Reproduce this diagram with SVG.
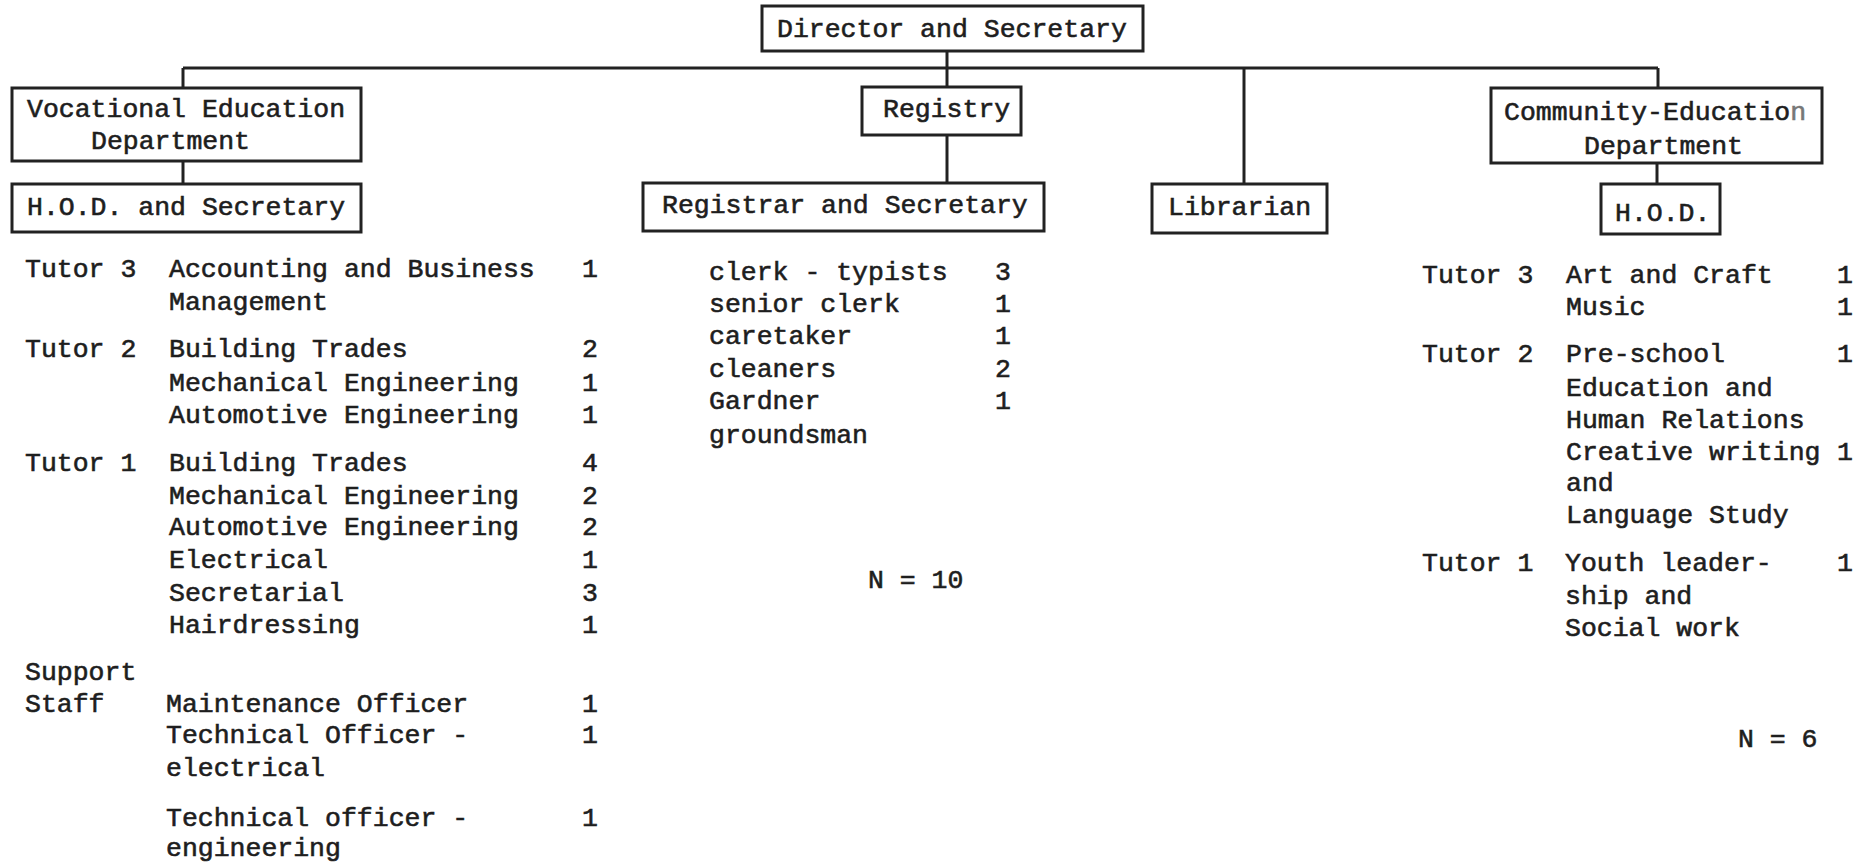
<svg xmlns="http://www.w3.org/2000/svg" width="1865" height="865" viewBox="0 0 1865 865">
<style>
text{font-family:"Liberation Mono","DejaVu Sans Mono",monospace;font-size:26.5px;fill:#1e1e1e;stroke:#1e1e1e;stroke-width:0.6px}
.box{fill:#fff;stroke:#222;stroke-width:3}
.con{stroke:#222;stroke-width:3;fill:none}
.n{text-anchor:middle}
.faded{fill:#777;stroke:#777}
</style>
<rect width="1865" height="865" fill="#fff"/>
<g id="connectors" class="con">
<line x1="183" y1="68" x2="1658" y2="68"/>
<line x1="947" y1="51" x2="947" y2="87"/>
<line x1="183" y1="68" x2="183" y2="88"/>
<line x1="1244" y1="68" x2="1244" y2="184"/>
<line x1="1658" y1="68" x2="1658" y2="88"/>
<line x1="183" y1="161" x2="183" y2="184"/>
<line x1="947" y1="135" x2="947" y2="183"/>
<line x1="1657" y1="163" x2="1657" y2="184"/>
</g>
<g id="director"><rect class="box" x="762" y="6" width="381" height="45"/><text x="777" y="37">Director and Secretary</text></g>
<g id="vocational"><rect class="box" x="12" y="88" width="349" height="73"/><text x="27" y="117">Vocational Education</text><text x="91" y="149">Department</text></g>
<g id="hod-voc"><rect class="box" x="12" y="184" width="349" height="48"/><text x="27" y="215">H.O.D. and Secretary</text></g>
<g id="registry"><rect class="box" x="862" y="87" width="159" height="48"/><text x="883" y="117">Registry</text></g>
<g id="registrar"><rect class="box" x="643" y="183" width="401" height="48"/><text x="662" y="213">Registrar and Secretary</text></g>
<g id="librarian"><rect class="box" x="1152" y="184" width="175" height="49"/><text x="1168" y="215">Librarian</text></g>
<g id="community"><rect class="box" x="1491" y="88" width="331" height="75"/><text x="1504" y="120">Community-Educatio<tspan class="faded">n</tspan></text><text x="1584" y="154">Department</text></g>
<g id="hod-comm"><rect class="box" x="1601" y="184" width="119" height="50"/><text x="1615" y="221">H.O.D.</text></g>

<g id="vocational-staff">
<text x="25" y="277">Tutor 3</text><text x="169" y="277">Accounting and Business</text><text class="n" x="590" y="277">1</text>
<text x="169" y="310">Management</text>
<text x="25" y="357">Tutor 2</text><text x="169" y="357">Building Trades</text><text class="n" x="590" y="357">2</text>
<text x="169" y="391">Mechanical Engineering</text><text class="n" x="590" y="391">1</text>
<text x="169" y="423">Automotive Engineering</text><text class="n" x="590" y="423">1</text>
<text x="25" y="471">Tutor 1</text><text x="169" y="471">Building Trades</text><text class="n" x="590" y="471">4</text>
<text x="169" y="504">Mechanical Engineering</text><text class="n" x="590" y="504">2</text>
<text x="169" y="535">Automotive Engineering</text><text class="n" x="590" y="535">2</text>
<text x="169" y="568">Electrical</text><text class="n" x="590" y="568">1</text>
<text x="169" y="601">Secretarial</text><text class="n" x="590" y="601">3</text>
<text x="169" y="633">Hairdressing</text><text class="n" x="590" y="633">1</text>
<text x="25" y="680">Support</text>
<text x="25" y="712">Staff</text><text x="166" y="712">Maintenance Officer</text><text class="n" x="590" y="712">1</text>
<text x="166" y="743">Technical Officer -</text><text class="n" x="590" y="743">1</text>
<text x="166" y="776">electrical</text>
<text x="166" y="826">Technical officer -</text><text class="n" x="590" y="826">1</text>
<text x="166" y="856">engineering</text>
</g>

<g id="registry-staff">
<text x="709" y="280">clerk - typists</text><text class="n" x="1003" y="280">3</text>
<text x="709" y="312">senior clerk</text><text class="n" x="1003" y="312">1</text>
<text x="709" y="344">caretaker</text><text class="n" x="1003" y="344">1</text>
<text x="709" y="377">cleaners</text><text class="n" x="1003" y="377">2</text>
<text x="709" y="409">Gardner</text><text class="n" x="1003" y="409">1</text>
<text x="709" y="443">groundsman</text>
<text x="868" y="588">N = 10</text>
</g>

<g id="community-staff">
<text x="1422" y="283">Tutor 3</text><text x="1566" y="283">Art and Craft</text><text class="n" x="1845" y="283">1</text>
<text x="1566" y="315">Music</text><text class="n" x="1845" y="315">1</text>
<text x="1422" y="362">Tutor 2</text><text x="1566" y="362">Pre-school</text><text class="n" x="1845" y="362">1</text>
<text x="1566" y="396">Education and</text>
<text x="1566" y="428">Human Relations</text>
<text x="1566" y="460">Creative writing</text><text class="n" x="1845" y="460">1</text>
<text x="1566" y="491">and</text>
<text x="1566" y="523">Language Study</text>
<text x="1422" y="571">Tutor 1</text><text x="1565" y="571">Youth leader-</text><text class="n" x="1845" y="571">1</text>
<text x="1565" y="604">ship and</text>
<text x="1565" y="636">Social work</text>
<text x="1738" y="747">N = 6</text>
</g>
</svg>
